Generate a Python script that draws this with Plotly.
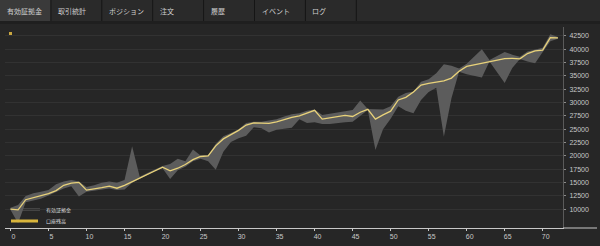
import plotly.graph_objects as go

# ---- data ----
idx = list(range(73))
balance = [10050, 9900, 11800, 12200, 12550, 12950, 13500, 14500, 14900, 15050,
           13600, 13800, 14050, 14350, 13950, 14500, 15200, 15900, 16600, 17300,
           17900, 17200, 17700, 18400, 19300, 19900, 20000, 21900, 23200, 24000,
           24800, 25800, 26200, 26150, 26100, 26400, 26800, 27250, 27500, 28000,
           28550, 26900, 27150, 27400, 27600, 27400, 28200, 28750, 26900, 27700,
           28400, 30500, 31000, 32000, 33300, 33600, 33850, 34100, 34600, 35900,
           36800, 37100, 37400, 37700, 37950, 38250, 38300, 38200, 39200, 39700,
           39850, 42200, 42150]
equity_low = [9900, 7400, 11300, 11700, 12000, 12600, 13300, 13900, 14300, 12400,
              13300, 13500, 13800, 13900, 13600, 13700, 15000, 15800, 16500, 17200,
              17700, 15700, 17300, 18000, 19000, 19500, 19000, 17400, 20800, 22600,
              23300, 23800, 25400, 25200, 24400, 24900, 25100, 25300, 26900, 26200,
              26300, 26000, 26000, 26200, 26300, 26400, 27500, 28600, 21100, 25000,
              27000, 29300, 28500, 28000, 30500, 32000, 32800, 23600, 30800, 35800,
              35300, 35000, 34700, 37700, 35700, 33700, 36500, 38200, 37700, 37400,
              39500, 41500, 42000]
equity_high = [10300, 10800, 12500, 13000, 13300, 13600, 14700, 15200, 15500, 15200,
               14200, 14500, 15000, 15200, 15000, 15500, 21800, 16100, 16800, 17500,
               18100, 18500, 19500, 19000, 21200, 20100, 20200, 22300, 23700, 24300,
               25000, 26200, 26400, 26400, 26700, 26900, 27400, 27800, 28000, 28500,
               28700, 27700, 27900, 28200, 28400, 28600, 30400, 28800, 28700, 28700,
               29300, 31100, 31800, 32100, 33900, 34400, 35500, 37200, 36900, 36400,
               37300, 38700, 40000, 38000, 38800, 39500, 39000, 38600, 39600, 40000,
               40300, 42800, 42300]
x_ticks = [0, 5, 10, 15, 20, 25, 30, 35, 40, 45, 50, 55, 60, 65, 70]
y_ticks = [10000, 12500, 15000, 17500, 20000, 22500, 25000, 27500, 30000,
           32500, 35000, 37500, 40000, 42500]
tabs = ["有効証拠金", "取引統計", "ポジション", "注文", "履歴", "イベント", "ログ"]
legend_names = ["有効証拠金", "口座残高"]

BG = "#262626"
W, H = 600, 246
ML, MR, MT, MB = 5, 37, 27, 18

fig = go.Figure()
fig.add_trace(go.Scatter(x=idx, y=equity_low, mode="lines", line=dict(width=0),
                         hoverinfo="skip", showlegend=False))
fig.add_trace(go.Scatter(x=idx, y=equity_high, mode="lines", line=dict(width=0),
                         fill="tonexty", fillcolor="#5c5c5c", showlegend=False))
fig.add_trace(go.Scatter(x=idx, y=balance, mode="lines",
                         line=dict(color="#e8d27a", width=1.3), showlegend=False))

tickfont = dict(family="Liberation Sans, Arial", size=7, color="#c8c8c8")
fig.update_layout(
    width=W, height=H,
    margin=dict(l=ML, r=MR, t=MT, b=MB),
    paper_bgcolor=BG, plot_bgcolor=BG,
    xaxis=dict(range=[-0.72, 72.67], tickvals=x_ticks, showgrid=False, zeroline=False,
               showline=True, linecolor="#c8c8c8", linewidth=1,
               ticks="outside", ticklen=2, tickcolor="#c8c8c8",
               tickfont=tickfont, ticklabelshift=3, ticklabelstandoff=0),
    yaxis=dict(range=[6494, 44181], tickvals=y_ticks, tickformat="d", side="right",
               showgrid=True, gridcolor="#323232", gridwidth=1, zeroline=False,
               showline=True, linecolor="#5a5a5a", linewidth=1,
               ticks="outside", ticklen=2, tickcolor="#8a8a8a",
               tickfont=tickfont, ticklabelstandoff=2),
)

shapes = []
def px_to_paper_x(px):
    return (px - ML) / (W - ML - MR)
def px_to_paper_y(py):
    return (H - MB - py) / (H - MT - MB)

# x axis extension beyond the y axis
shapes.append(dict(type="line", xref="paper", yref="paper", x0=1, x1=px_to_paper_x(597),
                   y0=0, y1=0, line=dict(color="#c8c8c8", width=1)))
# tab bar
shapes.append(dict(type="rect", xref="paper", yref="paper",
                   x0=px_to_paper_x(0), x1=px_to_paper_x(W),
                   y0=px_to_paper_y(21), y1=px_to_paper_y(0),
                   fillcolor="#2a2a2a", line=dict(width=0), layer="above"))
shapes.append(dict(type="rect", xref="paper", yref="paper",
                   x0=px_to_paper_x(0), x1=px_to_paper_x(W),
                   y0=px_to_paper_y(24), y1=px_to_paper_y(21),
                   fillcolor="#1f1f1f", line=dict(width=0), layer="above"))
shapes.append(dict(type="rect", xref="paper", yref="paper",
                   x0=px_to_paper_x(0), x1=px_to_paper_x(51),
                   y0=px_to_paper_y(21), y1=px_to_paper_y(0),
                   fillcolor="#3a3a3a", line=dict(width=0), layer="above"))
tab_w = 50.9
for k in range(1, len(tabs) + 1):
    xs = k * tab_w
    shapes.append(dict(type="line", xref="paper", yref="paper",
                       x0=px_to_paper_x(xs), x1=px_to_paper_x(xs),
                       y0=px_to_paper_y(21), y1=px_to_paper_y(0),
                       line=dict(color="#151515", width=1), layer="above"))
# small marker top-left
shapes.append(dict(type="rect", xref="paper", yref="paper",
                   x0=px_to_paper_x(9), x1=px_to_paper_x(12),
                   y0=px_to_paper_y(35), y1=px_to_paper_y(32),
                   fillcolor="#c9a640", line=dict(width=0), layer="above"))
# legend symbols
shapes.append(dict(type="line", xref="paper", yref="paper",
                   x0=px_to_paper_x(11), x1=px_to_paper_x(40),
                   y0=px_to_paper_y(209.5), y1=px_to_paper_y(209.5),
                   line=dict(color="#444444", width=3), layer="below"))
shapes.append(dict(type="line", xref="paper", yref="paper",
                   x0=px_to_paper_x(11), x1=px_to_paper_x(38),
                   y0=px_to_paper_y(221), y1=px_to_paper_y(221),
                   line=dict(color="#d9b53c", width=3), layer="above"))

annotations = []
for k, t in enumerate(tabs):
    annotations.append(dict(text=t, xref="paper", yref="paper",
                            x=px_to_paper_x(k * tab_w + 5), y=px_to_paper_y(11),
                            xanchor="left", yanchor="middle", showarrow=False,
                            font=dict(family="Noto Sans CJK JP", size=7, color="#cfcfcf")))
for t, py in zip(legend_names, [209.5, 221]):
    annotations.append(dict(text=t, xref="paper", yref="paper",
                            x=px_to_paper_x(44), y=px_to_paper_y(py),
                            xanchor="left", yanchor="middle", showarrow=False,
                            font=dict(family="Noto Sans CJK JP", size=5, color="#dddddd")))

fig.update_layout(shapes=shapes, annotations=annotations)
fig.write_html("out.html")
